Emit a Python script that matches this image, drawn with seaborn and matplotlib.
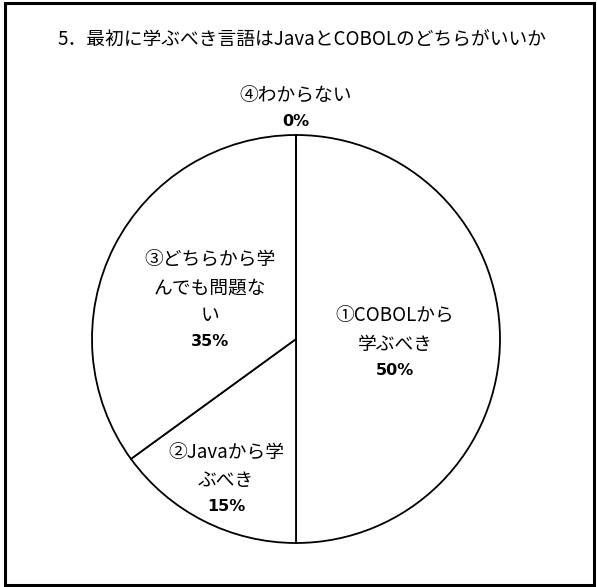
import matplotlib
matplotlib.use("Agg")
import matplotlib.pyplot as plt
import seaborn as sns
import numpy as np
from matplotlib.patches import Rectangle

sns.set_theme(style="white")
plt.rcParams['font.family'] = ['Noto Sans CJK JP', 'DejaVu Sans']

# ---- data ----
title = "5．最初に学ぶべき言語はJavaとCOBOLのどちらがいいか"
labels = ["①COBOLから\n学ぶべき", "②Javaから学\nぶべき", "③どちらから学\nんでも問題な\nい", "④わからない"]
values = [50, 15, 35, 0]
pct_labels = ["50%", "15%", "35%", "0%"]

# ---- layout (text anchor positions in pie-radius units) ----
pct_pos = [(0.485, -0.152), (-0.343, -0.82), (-0.42, -0.01), (0.0, 1.064)]

fig = plt.figure(figsize=(5.97, 5.87), dpi=100)
W, H = 597, 587
cx, cy, R = 296, 339, 204
side = 3.0 * R
ax = fig.add_axes([(cx - side / 2) / W, ((H - cy) - side / 2) / H, side / W, side / H])

ax.pie(values, startangle=90, counterclock=False, radius=1.0,
       colors=["white"] * len(values),
       wedgeprops=dict(edgecolor="black", linewidth=1.3))
ax.set_xlim(-1.5, 1.5)
ax.set_ylim(-1.5, 1.5)
ax.set_aspect("equal")
ax.axis("off")

for lab, pct, (px, py) in zip(labels, pct_labels, pct_pos):
    ax.text(px, py, pct, ha="center", va="center", fontsize=11.5,
            fontweight="bold", family=["DejaVu Sans"], color="black")
    ax.annotate(lab, xy=(px, py), xytext=(0, 11), textcoords="offset points",
                ha="center", va="bottom", multialignment="center",
                fontsize=13.5, linespacing=1.42, color="black")

fig.text(302 / W, 1 - 40 / H, title, ha="center", va="center", fontsize=13.5, color="black")

fig.patches.append(Rectangle((4.5 / W, 2.5 / H), 589 / W, 582 / H, transform=fig.transFigure,
                             fill=False, edgecolor="black", linewidth=2.2))

fig.savefig("out.png", dpi=100, facecolor="white")
